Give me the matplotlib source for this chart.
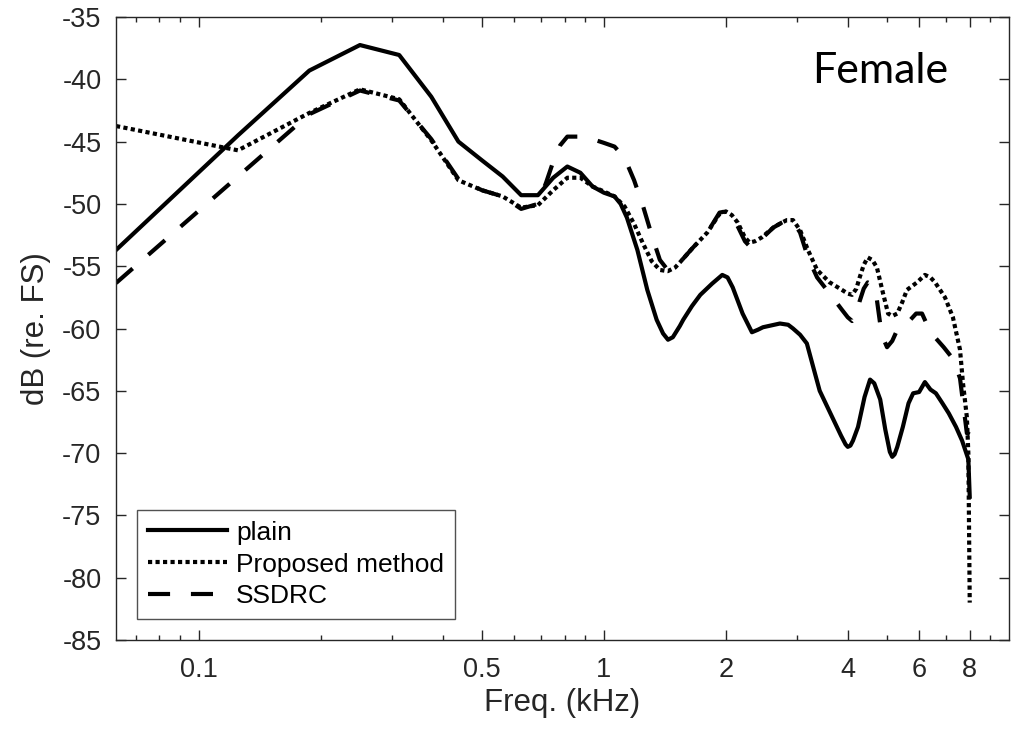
import matplotlib
matplotlib.use("Agg")
import matplotlib.pyplot as plt
from matplotlib.ticker import FixedLocator, FixedFormatter, NullFormatter

# Long-term spectra (dB re. full scale) of female speech
freq_plain = [0.0625, 0.125, 0.1875, 0.25, 0.3125, 0.375, 0.4375, 0.5, 0.5625,
              0.625, 0.6875, 0.75, 0.8125, 0.875, 0.9375, 1.0, 1.0625, 1.10,
              1.14, 1.21, 1.28, 1.35, 1.40, 1.44, 1.48, 1.54, 1.57, 1.65, 1.73,
              1.85, 1.96, 2.02, 2.08, 2.20, 2.32, 2.40, 2.47, 2.72, 2.85, 2.93,
              3.05, 3.17, 3.30, 3.41, 3.66, 3.85, 3.95, 4.0, 4.06, 4.12, 4.24,
              4.40, 4.54, 4.65, 4.81, 4.95, 5.08, 5.15, 5.22, 5.30, 5.47, 5.65,
              5.8, 6.0, 6.2, 6.4, 6.6, 6.85, 7.1, 7.4, 7.66, 7.9375, 8.0]
db_plain = [-53.7, -44.5, -39.3, -37.25, -38.05, -41.4, -45.0, -46.5, -47.8,
            -49.3, -49.3, -47.9, -47.0, -47.5, -48.6, -49.1, -49.4, -50.0,
            -51.1, -53.7, -56.9, -59.3, -60.4, -60.9, -60.7, -59.8, -59.3, -58.2, -57.3,
            -56.4, -55.7, -55.9, -56.7, -58.8, -60.3, -60.1, -59.9, -59.6, -59.7, -60.0,
            -60.5, -61.2, -63.3, -65.0, -67.1, -68.6, -69.3, -69.5, -69.4, -69.0, -67.9,
            -65.5, -64.1, -64.4, -65.7, -68.1, -69.9, -70.3, -70.1, -69.5, -67.9, -66.0,
            -65.2, -65.1, -64.3, -64.9, -65.2, -66.0, -66.8, -67.9, -69.0, -70.5, -73.5]

freq_proposed = [0.0625, 0.125, 0.1875, 0.25, 0.3125, 0.375, 0.4375, 0.5, 0.5625,
                 0.625, 0.6875, 0.75, 0.8125, 0.875, 0.9375, 1.0, 1.0625, 1.125,
                 1.1875, 1.25, 1.3125, 1.375, 1.4375, 1.5, 1.54, 1.66, 1.80, 1.93,
                 2.0, 2.07, 2.14, 2.23, 2.29, 2.36, 2.45, 2.62, 2.75, 2.83, 2.93,
                 3.05, 3.19, 3.36, 3.61, 3.87, 4.0, 4.1, 4.2, 4.28, 4.38, 4.48, 4.6,
                 4.72, 4.89, 5.03, 5.15, 5.3, 5.45, 5.6, 5.93, 6.2, 6.4, 6.57, 6.95,
                 7.27, 7.57, 7.7, 7.87, 7.9375, 8.0]
db_proposed = [-43.75, -45.7, -42.7, -40.8, -41.6, -44.9, -48.1, -48.9, -49.4,
               -50.3, -50.1, -48.9, -47.9, -47.9, -48.6, -49.0, -49.4, -50.2,
               -51.6, -53.2, -54.6, -55.3, -55.4, -55.1, -54.7, -53.5, -52.3, -50.8,
               -50.6, -50.9, -51.5, -52.7, -53.1, -53.0, -52.7, -51.9, -51.5, -51.3, -51.3,
               -52.1, -53.7, -55.3, -56.3, -56.9, -57.2, -57.3, -56.8, -55.9, -54.9, -54.3, -54.5,
               -55.1, -57.2, -58.8, -59.0, -58.8, -57.9, -56.9, -56.3, -55.7, -55.9, -56.3, -57.5,
               -59.1, -61.7, -64.4, -67.1, -70.0, -82.0]

freq_ssdrc = [0.0625, 0.125, 0.1875, 0.25, 0.3125, 0.375, 0.4375, 0.5, 0.5625,
              0.625, 0.6875, 0.72, 0.75, 0.78, 0.8125, 0.875, 0.9375, 1.0, 1.0625,
              1.125, 1.1875, 1.25, 1.3125, 1.375, 1.4375, 1.5, 1.54, 1.66, 1.80,
              1.93, 2.0, 2.07, 2.14, 2.23, 2.29, 2.36, 2.45, 2.62, 2.75, 2.83, 2.93,
              3.05, 3.19, 3.36, 3.61, 3.87, 4.0, 4.1, 4.2, 4.28, 4.38, 4.48, 4.6,
              4.72, 4.85, 5.0, 5.15, 5.3, 5.6, 5.9, 6.1, 6.4, 6.9, 7.3, 7.57,
              7.87, 8.0]
db_ssdrc = [-56.35, -47.8, -42.8, -40.9, -41.7, -44.8, -48.0, -48.9, -49.4,
            -50.4, -50.0, -48.3, -46.6, -45.3, -44.6, -44.6, -44.8, -45.1, -45.4,
            -46.3, -48.1, -50.2, -52.5, -54.5, -55.3, -55.0, -54.7, -53.5, -52.3,
            -50.7, -50.6, -51.0, -51.8, -53.0, -53.4, -53.3, -52.8, -51.9, -51.5, -51.3, -51.4,
            -52.3, -54.3, -55.9, -57.2, -58.5, -59.1, -59.4, -59.0, -57.8, -56.8, -56.3, -56.5,
            -57.7, -60.5, -61.5, -61.0, -60.1, -59.6, -58.8, -58.8, -60.3, -61.5, -62.5, -64.0,
            -68.4, -68.5]

series_labels = ["plain", "Proposed method", "SSDRC"]

major_ticks = [0.1, 0.5, 1, 2, 4, 6, 8]
major_labels = ["0.1", "0.5", "1", "2", "4", "6", "8"]
minor_ticks = [0.07, 0.08, 0.09, 0.2, 0.3, 0.4, 0.6, 0.7, 0.8, 0.9, 3, 5, 7, 9]
y_ticks = list(range(-85, -34, 5))

axis_color = "#262626"
plt.rcParams["font.family"] = ["Liberation Sans", "DejaVu Sans"]

fig = plt.figure(figsize=(10.16, 7.30), dpi=100)
ax = fig.add_axes([0.1142, 0.1233, 0.8789, 0.8534])

lw = 3.0
ax.plot(freq_plain, db_plain, color="black", lw=lw, ls="-",
        solid_joinstyle="round", label=series_labels[0])
ax.plot(freq_proposed, db_proposed, color="black", lw=lw, ls=(0, (1, 0.8)),
        dash_capstyle="butt", label=series_labels[1])
ax.plot(freq_ssdrc, db_ssdrc, color="black", lw=lw, ls=(0, (5.3, 5.0)),
        dash_capstyle="butt", label=series_labels[2])

ax.set_xscale("log")
ax.set_xlim(0.0625, 10)
ax.set_ylim(-85, -35)

ax.xaxis.set_major_locator(FixedLocator(major_ticks))
ax.xaxis.set_major_formatter(FixedFormatter(major_labels))
ax.xaxis.set_minor_locator(FixedLocator(minor_ticks))
ax.xaxis.set_minor_formatter(NullFormatter())
ax.set_yticks(y_ticks)
ax.set_yticklabels([str(v) for v in y_ticks])

ax.tick_params(which="both", direction="in", top=True, right=True,
               colors=axis_color, width=1.0, labelsize=19.5)
ax.tick_params(which="major", length=7)
ax.tick_params(which="minor", length=3.5)
ax.tick_params(axis="x", which="major", pad=12)
ax.tick_params(axis="y", which="major", pad=10.5)
for s in ax.spines.values():
    s.set_color(axis_color)
    s.set_linewidth(1.0)

ax.set_xlabel("Freq. (kHz)", fontsize=22.5, color=axis_color, labelpad=4)
ax.set_ylabel("dB (re. FS)", fontsize=22.5, color=axis_color, labelpad=8)

ax.text(0.779, 0.894, "Female", transform=ax.transAxes, fontsize=31,
        family=["Lato", "DejaVu Sans"], color="black", va="baseline", ha="left")

leg = ax.legend(loc="lower left", bbox_to_anchor=(0.0235, 0.0337), fontsize=19,
                handlelength=3.0, handletextpad=0.35, labelspacing=0.3,
                borderpad=0.4, borderaxespad=0.0, fancybox=False, frameon=True)
leg.get_frame().set_edgecolor(axis_color)
leg.get_frame().set_linewidth(1.0)
for t in leg.get_texts():
    t.set_color("black")

fig.savefig("out.png", dpi=100, facecolor="white")
